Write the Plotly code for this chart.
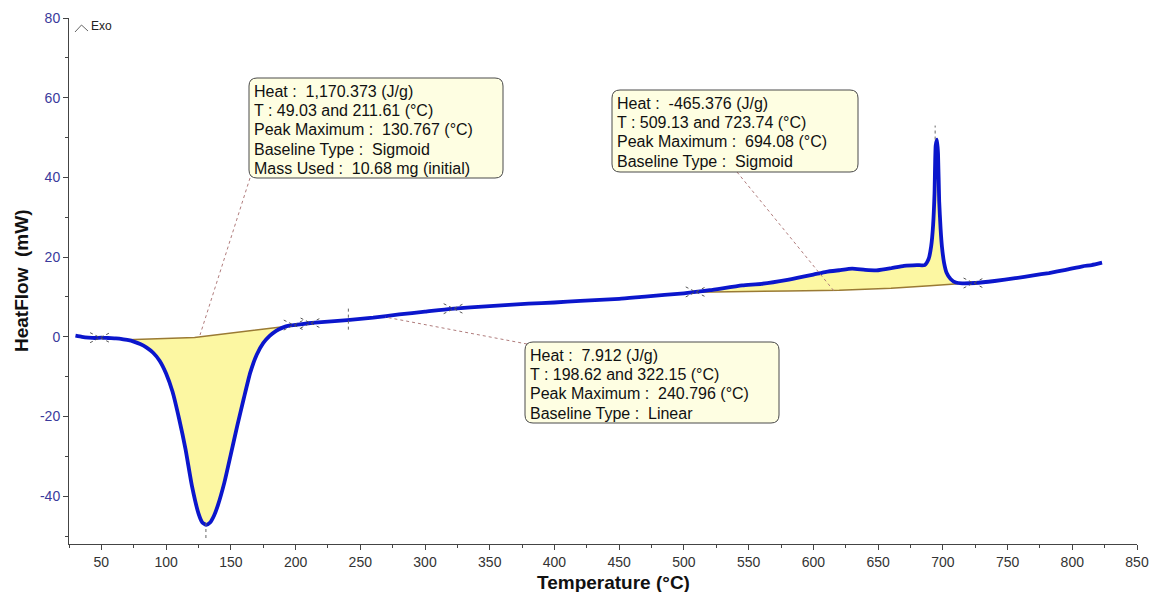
import numpy as np
import plotly.graph_objects as go

# DSC heat-flow curve (temperature in °C, heat flow in mW)
temperature = [30, 35, 40, 45, 50, 55, 60, 65, 70, 75, 80, 85, 90, 95, 100, 105, 110,
               115, 120, 125, 128, 131, 134, 137, 140, 145, 150, 155, 160, 165, 170,
               175, 180, 185, 190, 195, 200, 210, 220, 240, 260, 280, 300, 320, 350,
               380, 400, 420, 450, 470, 500, 520, 545, 560, 580, 600, 610, 620, 630,
               640, 650, 660, 670, 680, 686, 689, 691, 692.5, 693.6, 694.5, 695.5,
               696.3, 697.2, 698.3, 699.3, 701, 703, 706, 710, 715, 725, 740, 756,
               770, 782, 795, 808, 815, 823]
heat_flow = [0.3, 0.0, -0.2, -0.3, -0.2, -0.3, -0.4, -0.5, -0.8, -1.2, -1.8, -2.7,
             -4.0, -6.0, -9.2, -13.8, -20.5, -28.2, -37.5, -44.3, -46.6, -47.2, -46.6,
             -44.9, -42.3, -36.6, -29.5, -22.3, -15.5, -9.0, -4.5, -1.6, 0.2, 1.5, 2.3,
             2.8, 3.0, 3.4, 3.7, 4.2, 4.8, 5.6, 6.3, 7.0, 7.7, 8.3, 8.6, 9.0, 9.5, 10.1,
             10.9, 11.7, 12.9, 13.3, 14.3, 15.6, 16.3, 16.7, 17.1, 16.8, 16.7, 17.2,
             17.8, 18.0, 18.0, 19.5, 22.7, 28.0, 36.0, 48.0, 49.5, 46.0, 34.0, 27.0,
             22.7, 18.5, 16.0, 14.5, 13.6, 13.4, 13.5, 14.0, 14.7, 15.4, 16.0, 16.8,
             17.7, 18.0, 18.6]

# Integration baselines
base1_t = [70, 95, 122, 192]
base1_v = [-0.75, -0.5, -0.2, 2.6]
base2_t = [509, 540, 580, 620, 660, 690, 712]
base2_v = [11.2, 11.4, 11.5, 11.7, 12.2, 12.8, 13.3]

# Integration limits and peak maxima
limits_t = [49.03, 198.62, 211.61, 322.15, 509.13, 723.74]
peak_max_t = [130.767, 240.796, 694.08]

# Peak result labels
label_1 = ["Heat :  1,170.373 (J/g)", "T : 49.03 and 211.61 (°C)",
           "Peak Maximum :  130.767 (°C)", "Baseline Type :  Sigmoid",
           "Mass Used :  10.68 mg (initial)"]
label_2 = ["Heat :  -465.376 (J/g)", "T : 509.13 and 723.74 (°C)",
           "Peak Maximum :  694.08 (°C)", "Baseline Type :  Sigmoid"]
label_3 = ["Heat :  7.912 (J/g)", "T : 198.62 and 322.15 (°C)",
           "Peak Maximum :  240.796 (°C)", "Baseline Type :  Linear"]

x_ticks = list(range(50, 851, 50))
y_ticks = [-40, -20, 0, 20, 40, 60, 80]
y_ticktext = ["-40", "-20", "0", "20", "40", "60", "80"]

X_RANGE = [25, 850]
Y_RANGE = [-52, 80]
W, H = 1151, 592
ML, MR, MT, MB = 69, 14, 18, 48

FONT = "Liberation Sans, Arial, sans-serif"


def px_x(px):
    return X_RANGE[0] + (px - ML) / (W - ML - MR) * (X_RANGE[1] - X_RANGE[0])


def px_y(py):
    return Y_RANGE[1] - (py - MT) / (H - MT - MB) * (Y_RANGE[1] - Y_RANGE[0])


def paper_x(px):
    return (px - ML) / (W - ML - MR)


def paper_y(py):
    return (H - MB - py) / (H - MT - MB)


def dx(p):
    return p / (W - ML - MR) * (X_RANGE[1] - X_RANGE[0])


def dy(p):
    return p / (H - MT - MB) * (Y_RANGE[1] - Y_RANGE[0])


t_arr = np.array(temperature)
v_arr = np.array(heat_flow)


def on_curve(t):
    return float(np.interp(t, t_arr, v_arr))


fig = go.Figure()

# Shaded peak areas between curve and baseline
for bt, bv in [(base1_t, base1_v), (base2_t, base2_v)]:
    mask = (t_arr >= bt[0]) & (t_arr <= bt[-1])
    seg_t = [bt[0]] + list(t_arr[mask]) + [bt[-1]]
    seg_v = [bv[0]] + list(v_arr[mask]) + [bv[-1]]
    fig.add_trace(go.Scatter(
        x=seg_t + bt[::-1], y=seg_v + bv[::-1], fill="toself",
        fillcolor="#fcf7a2", mode="lines", line=dict(width=0),
        hoverinfo="skip", showlegend=False))
    fig.add_trace(go.Scatter(
        x=bt, y=bv, mode="lines", line=dict(color="#9a7a34", width=1.5),
        hoverinfo="skip", showlegend=False))

# Main heat-flow curve
fig.add_trace(go.Scatter(
    x=temperature, y=heat_flow, mode="lines",
    line=dict(color="#0b16cc", width=3.8, shape="spline", smoothing=0.5),
    showlegend=False))

shapes = []

# Integration-limit cross marks
for t in limits_t:
    v = on_curve(t)
    for s in (1, -1):
        shapes.append(dict(type="line", xref="x", yref="y",
                           x0=t - dx(10), y0=v + s * dy(5),
                           x1=t + dx(10), y1=v - s * dy(5),
                           line=dict(color="#555555", width=1, dash="dot")))

# Peak maximum markers
for t, (lo, hi) in zip(peak_max_t, [(-50.5, -46.5), (1.8, 7.2), (49.5, 53.0)]):
    shapes.append(dict(type="line", xref="x", yref="y", x0=t, x1=t, y0=lo, y1=hi,
                       line=dict(color="#666666", width=1, dash="dot")))

# Leader lines from labels to peaks
leaders = [((250, 178), (200, 335)), ((737, 172), (834, 291)), ((527, 344), (385, 317))]
for (ax_, ay_), (bx_, by_) in leaders:
    shapes.append(dict(type="line", xref="x", yref="y",
                       x0=px_x(ax_), y0=px_y(ay_), x1=px_x(bx_), y1=px_y(by_),
                       line=dict(color="#b07c7c", width=1, dash="dot")))


def rounded_box(x0, y0, x1, y1, r=8):
    # rounded rectangle path in data coordinates from pixel corners
    X = px_x
    Y = px_y
    path = (f"M {X(x0 + r)},{Y(y0)} L {X(x1 - r)},{Y(y0)} "
            f"Q {X(x1)},{Y(y0)} {X(x1)},{Y(y0 + r)} "
            f"L {X(x1)},{Y(y1 - r)} Q {X(x1)},{Y(y1)} {X(x1 - r)},{Y(y1)} "
            f"L {X(x0 + r)},{Y(y1)} Q {X(x0)},{Y(y1)} {X(x0)},{Y(y1 - r)} "
            f"L {X(x0)},{Y(y0 + r)} Q {X(x0)},{Y(y0)} {X(x0 + r)},{Y(y0)} Z")
    return dict(type="path", xref="x", yref="y", path=path,
                fillcolor="#fefee2", line=dict(color="#4a4a4a", width=1),
                layer="above")


boxes = [((249, 78, 503, 178), label_1), ((612, 90, 858, 172), label_2),
         ((525, 342, 779, 423), label_3)]
LINE_STEP = 19.4
annotations = []
for (x0, y0, x1, y1), lines in boxes:
    shapes.append(rounded_box(x0, y0, x1, y1))
    for i, line in enumerate(lines):
        annotations.append(dict(
            x=px_x(x0 + 3), y=px_y(y0 + 13 + LINE_STEP * i), xref="x", yref="y",
            xanchor="left", yanchor="middle", align="left", showarrow=False,
            text=line.replace("  ", "\u00a0\u00a0"),
            font=dict(family=FONT, size=16, color="#111111")))

# Exo direction marker
shapes.append(dict(type="path", xref="x", yref="y",
                   path=f"M {px_x(75)},{px_y(32)} L {px_x(81.5)},{px_y(25)} L {px_x(88)},{px_y(31)}",
                   line=dict(color="#666666", width=1)))
annotations.append(dict(x=px_x(89), y=px_y(26), xref="x", yref="y", xanchor="left",
                        yanchor="middle", showarrow=False, text="Exo",
                        font=dict(family=FONT, size=12, color="#222222")))

# Axis titles
annotations.append(dict(x=paper_x(613), y=paper_y(582), xref="paper", yref="paper",
                        xanchor="center", yanchor="middle", showarrow=False,
                        text="<b>Temperature (°C)</b>",
                        font=dict(family=FONT, size=19, color="#111111")))
annotations.append(dict(x=paper_x(21), y=paper_y(281), xref="paper", yref="paper",
                        xanchor="center", yanchor="middle", showarrow=False,
                        textangle=-90, text="<b>HeatFlow\u00a0\u00a0(mW)</b>",
                        font=dict(family=FONT, size=19, color="#111111")))

fig.update_layout(
    width=W, height=H,
    margin=dict(l=ML, r=MR, t=MT, b=MB, autoexpand=False),
    paper_bgcolor="white", plot_bgcolor="white",
    shapes=shapes, annotations=annotations,
    xaxis=dict(range=X_RANGE, tickvals=x_ticks, ticks="outside", ticklen=5,
               tickcolor="#444444", showline=True, linecolor="#444444", linewidth=1,
               showgrid=False, zeroline=False, automargin=False,
               tickfont=dict(family=FONT, size=14, color="#333333"),
               minor=dict(tickvals=list(range(25, 851, 25)), ticks="outside", ticklen=3,
                          tickcolor="#444444")),
    yaxis=dict(range=Y_RANGE, tickvals=y_ticks, ticktext=y_ticktext, ticks="outside",
               ticklen=5, tickcolor="#444444", showline=True, linecolor="#444444",
               linewidth=1, showgrid=False, zeroline=False, automargin=False,
               tickfont=dict(family=FONT, size=14, color="#3a3a9c"),
               minor=dict(tickvals=[-50, -30, -10, 10, 30, 50, 70], ticks="outside",
                          ticklen=3, tickcolor="#444444")),
)

fig.write_html("out.html", config={"responsive": False})
